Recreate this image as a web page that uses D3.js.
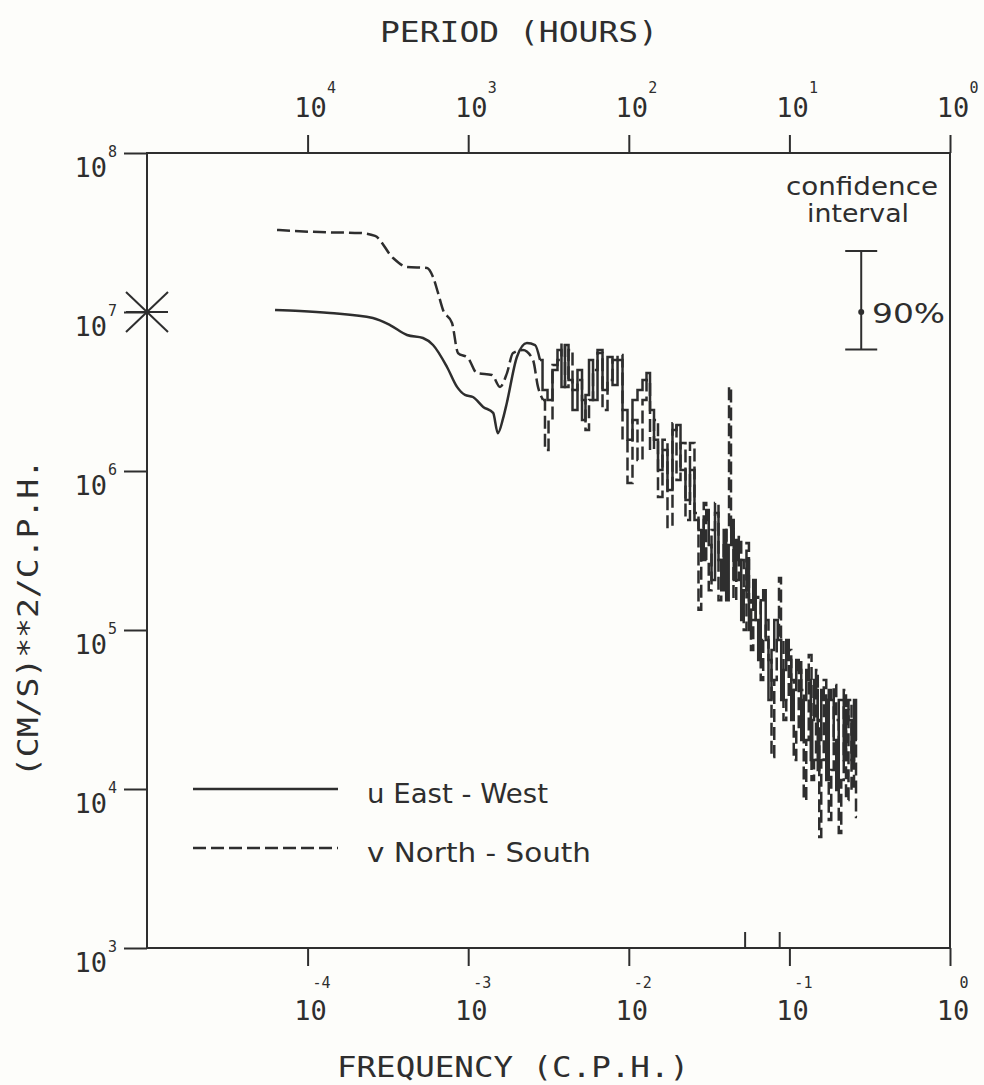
<!DOCTYPE html>
<html><head><meta charset="utf-8">
<script src="https://cdn.jsdelivr.net/npm/d3@7"></script>
<style>html,body{margin:0;padding:0;background:#fdfdfa}svg{display:block}</style>
</head><body>
<svg id="c" width="984" height="1085"></svg>
<script>
// ---- axis ticks ----
const freqTicks = [1e-4, 1e-3, 1e-2, 1e-1, 1];
const freqExpLabels = ["-4", "-3", "-2", "-1", "0"];
const periodTicks = [1e4, 1e3, 1e2, 1e1, 1];
const periodExpLabels = ["4", "3", "2", "1", "0"];
const psdTicks = [1e8, 1e7, 1e6, 1e5, 1e4, 1e3];
const psdExpLabels = ["8", "7", "6", "5", "4", "3"];
const markFreqs = [0.053, 0.087];

// ---- u East-West (solid) ----
const uSmoothFreq = [6.27e-5, 8.97e-5, 1.38e-4, 2.55e-4, 3.26e-4, 4.16e-4, 5.23e-4, 6.04e-4, 7.38e-4, 8.52e-4, 9.55e-4, 1.07e-3, 1.24e-3, 1.43e-3, 1.53e-3, 1.65e-3, 1.74e-3, 2.01e-3, 2.32e-3, 2.61e-3, 2.80e-3];
const uSmoothPSD = [1.03e7, 1.015e7, 9.86e6, 9.17e6, 8.28e6, 7.17e6, 6.86e6, 6.20e6, 4.51e6, 3.38e6, 3.01e6, 2.92e6, 2.53e6, 2.32e6, 1.73e6, 2.15e6, 2.68e6, 5.21e6, 6.38e6, 6.20e6, 4.99e6];
const uFineFreq = [
  2.80e-3, 3.01e-3, 3.23e-3, 3.47e-3, 3.73e-3, 3.89e-3, 4.12e-3, 4.31e-3, 4.62e-3, 4.97e-3,
  5.26e-3, 5.49e-3, 5.82e-3, 6.16e-3, 6.62e-3, 7.11e-3, 7.64e-3, 8.21e-3, 8.82e-3, 9.47e-3,
  1.017e-2, 1.093e-2, 1.174e-2, 1.262e-2, 1.317e-2, 1.395e-2, 1.477e-2, 1.564e-2, 1.680e-2, 1.805e-2,
  1.939e-2, 2.025e-2, 2.175e-2, 2.336e-2, 2.474e-2, 2.658e-2,
  2.775e-2, 2.875e-2, 2.982e-2, 3.09e-2, 3.203e-2, 3.345e-2, 3.542e-2, 3.697e-2, 3.83e-2, 3.972e-2,
  4.11e-2, 4.267e-2, 4.42e-2, 4.584e-2, 4.75e-2, 4.925e-2, 5.10e-2, 5.29e-2, 5.52e-2, 5.68e-2,
  5.85e-2, 6.06e-2, 6.28e-2, 6.51e-2, 6.75e-2, 6.99e-2, 7.25e-2, 7.57e-2, 7.91e-2, 8.19e-2,
  8.74e-2, 9.05e-2, 9.39e-2, 9.73e-2, 0.1009, 0.1045, 0.1084, 0.1123, 0.1164, 0.1206,
  0.1251, 0.1296, 0.1344, 0.1373, 0.1403, 0.1444, 0.1486, 0.1518, 0.1551, 0.1607,
  0.1666, 0.1727, 0.1790, 0.1855, 0.1923, 0.1993, 0.2066, 0.2141, 0.2220, 0.2284,
  0.2384, 0.2490, 0.2562, 0.2636];
const uFinePSD = [
  4.99e6, 3.23e6, 2.80e6, 4.32e6, 5.77e6, 3.38e6, 6.20e6, 3.74e6, 2.42e6, 4.32e6,
  2.09e6, 3.01e6, 4.99e6, 2.80e6, 5.52e6, 3.23e6, 5.21e6, 3.47e6, 4.99e6, 2.42e6,
  1.57e6, 2.80e6, 3.23e6, 3.74e6, 4.13e6, 2.42e6, 1.57e6, 1.015e6, 1.356e6, 7.60e5,
  1.81e6, 1.95e6, 1.015e6, 6.57e5, 1.015e6, 4.92e5,
  4.26e5, 2.76e5, 4.92e5, 5.68e5, 3.42e5, 2.06e5, 5.44e5, 2.76e5, 1.78e5, 4.26e5,
  1.54e5, 3.42e5, 4.92e5, 2.06e5, 3.68e5, 2.76e5, 1.156e5, 1.78e5, 2.76e5, 1.00e5,
  1.34e5, 2.06e5, 1.156e5, 6.48e4, 1.54e5, 1.78e5, 8.65e4, 3.63e4, 7.49e4, 1.156e5,
  8.65e4, 3.63e4, 5.60e4, 8.65e4, 6.48e4, 2.72e4, 4.20e4, 6.48e4, 5.60e4, 2.03e4,
  3.63e4, 5.60e4, 4.85e4, 1.52e4, 2.72e4, 4.85e4, 4.20e4, 1.317e4, 2.03e4, 4.20e4,
  3.63e4, 1.14e4, 4.20e4, 3.63e4, 2.03e4, 9.86e3, 3.63e4, 3.63e4, 1.52e4, 3.14e4,
  2.72e4, 1.52e4, 3.63e4, 2.03e4];

// ---- v North-South (dashed) ----
const vSmoothFreq = [6.45e-5, 1.19e-4, 2.12e-4, 2.63e-4, 3.40e-4, 4.16e-4, 5.54e-4, 6.04e-4, 6.49e-4, 6.97e-4, 7.93e-4, 8.64e-4, 9.97e-4, 1.134e-3, 1.407e-3, 1.578e-3, 1.744e-3, 1.901e-3, 2.193e-3, 2.532e-3, 2.720e-3, 2.92e-3];
const vSmoothPSD = [3.28e7, 3.18e7, 3.14e7, 3.01e7, 2.19e7, 1.92e7, 1.89e7, 1.66e7, 1.317e7, 1.03e7, 8.53e6, 5.52e6, 5.14e6, 4.13e6, 4.02e6, 3.38e6, 4.13e6, 5.52e6, 5.77e6, 4.99e6, 3.38e6, 2.80e6];
const vFineFreq = [
  2.92e-3, 3.096e-3, 3.232e-3, 3.472e-3, 3.728e-3, 3.893e-3, 4.123e-3, 4.305e-3, 4.624e-3, 4.97e-3,
  5.26e-3, 5.49e-3, 5.82e-3, 6.16e-3, 6.62e-3, 7.11e-3, 7.64e-3, 8.21e-3, 8.82e-3, 9.47e-3,
  1.017e-2, 1.093e-2, 1.174e-2, 1.262e-2, 1.317e-2, 1.395e-2, 1.477e-2, 1.564e-2, 1.680e-2, 1.805e-2,
  1.939e-2, 2.025e-2, 2.175e-2, 2.336e-2, 2.474e-2, 2.658e-2,
  2.775e-2, 2.875e-2, 2.982e-2, 3.09e-2, 3.203e-2, 3.345e-2, 3.542e-2, 3.697e-2, 3.83e-2, 3.972e-2,
  4.15e-2, 4.267e-2, 4.39e-2, 4.584e-2, 4.75e-2, 4.925e-2, 5.10e-2, 5.29e-2, 5.52e-2, 5.68e-2,
  5.85e-2, 6.06e-2, 6.28e-2, 6.51e-2, 6.75e-2, 6.99e-2, 7.25e-2, 7.57e-2, 7.91e-2, 8.19e-2,
  8.49e-2, 8.74e-2, 8.99e-2, 9.39e-2, 9.73e-2, 0.1009, 0.1045, 0.1084, 0.1123, 0.1164,
  0.1206, 0.1251, 0.1296, 0.1344, 0.1403, 0.1444, 0.1486, 0.1518, 0.1551, 0.1607,
  0.1666, 0.1727, 0.1790, 0.1855, 0.1923, 0.1993, 0.2066, 0.2141, 0.2220, 0.2284,
  0.2384, 0.2490, 0.2562, 0.2636];
const vFinePSD = [
  2.80e6, 1.356e6, 2.09e6, 4.64e6, 4.99e6, 6.38e6, 3.38e6, 5.77e6, 3.23e6, 3.74e6,
  2.80e6, 1.81e6, 2.80e6, 4.32e6, 5.77e6, 2.42e6, 3.74e6, 4.99e6, 5.36e6, 1.57e6,
  8.40e5, 2.09e6, 1.173e6, 2.80e6, 3.74e6, 1.356e6, 2.09e6, 6.86e5, 1.57e6, 4.44e5,
  2.00e6, 8.78e5, 1.50e6, 4.92e5, 1.50e6, 5.44e5,
  1.34e5, 3.18e5, 6.29e5, 2.76e5, 1.78e5, 4.26e5, 6.29e5, 1.54e5, 2.76e5, 3.53e5,
  4.26e5, 3.38e6, 4.26e5, 1.54e5, 2.06e5, 3.85e5, 2.76e5, 1.00e5, 3.53e5, 1.54e5,
  7.49e4, 1.156e5, 1.61e5, 1.54e5, 4.85e4, 8.65e4, 1.156e5, 6.48e4, 1.59e4, 4.85e4,
  8.65e4, 2.12e5, 8.65e4, 2.72e4, 3.63e4, 7.49e4, 4.85e4, 1.52e4, 2.35e4, 6.48e4,
  4.20e4, 8.53e3, 2.03e4, 6.96e4, 1.14e4, 1.52e4, 5.60e4, 2.72e4, 4.99e3, 1.52e4,
  4.85e4, 3.63e4, 6.38e3, 1.317e4, 4.51e4, 2.72e4, 5.29e3, 1.14e4, 4.20e4, 8.53e3,
  3.63e4, 9.86e3, 2.03e4, 6.67e3];

// ---- confidence interval & marker ----
const ciFreq = 0.28;
const ciPSD = [5.8e6, 1.0e7, 2.42e7]; // lower, estimate, upper
const starPSD = 1e7;

// ---------------------------------------------------------------
const svg = d3.select("#c");
const ink = "#2e2e2e";
const mono = "'DejaVu Sans Mono', 'Liberation Mono', monospace";
const sans = "'DejaVu Sans', 'Noto Sans', sans-serif";

const x = d3.scaleLog().domain([1e-5, 1]).range([147, 950]);
const xp = d3.scaleLog().domain([1e5, 1]).range([147, 950]);
const y = d3.scaleLog().domain([1e3, 1e8]).range([948, 153]);

// frame
svg.append("rect").attr("x", x(1e-5)).attr("y", y(1e8))
  .attr("width", x(1) - x(1e-5)).attr("height", y(1e3) - y(1e8))
  .attr("fill", "none").attr("stroke", ink).attr("stroke-width", 2);

function styleAxis(g) {
  g.select(".domain").remove();
  g.selectAll("line").attr("stroke", ink).attr("stroke-width", 2);
  g.selectAll("text").remove();
}
svg.append("g").attr("transform", `translate(0,${y(1e3)})`)
  .call(d3.axisBottom(x).tickValues(freqTicks).tickSize(18).tickFormat(() => "")).call(styleAxis);
svg.append("g").attr("transform", `translate(0,${y(1e8)})`)
  .call(d3.axisTop(xp).tickValues(periodTicks).tickSize(18).tickFormat(() => "")).call(styleAxis);
svg.append("g").attr("transform", `translate(${x(1e-5)},0)`)
  .call(d3.axisLeft(y).tickValues(psdTicks).tickSize(23).tickFormat(() => "")).call(styleAxis);
// marks on bottom axis
svg.append("g").selectAll("line").data(markFreqs).join("line")
  .attr("x1", d => x(d)).attr("x2", d => x(d))
  .attr("y1", y(1e3)).attr("y2", y(1e3) - 16)
  .attr("stroke", ink).attr("stroke-width", 2);

function label(xc, yb, anchor, txt, size) {
  return svg.append("text").attr("x", xc).attr("y", yb).attr("text-anchor", anchor)
    .attr("font-family", mono).attr("font-size", size).attr("fill", ink).text(txt);
}
// bottom tick labels
freqTicks.forEach((v, i) => {
  label(x(v) + 3, 1020, "middle", "10", 27);
  label(x(v) + 14, 988, "middle", freqExpLabels[i], 15);
});
// top tick labels
periodTicks.forEach((v, i) => {
  label(xp(v) + 3, 117, "middle", "10", 27);
  label(xp(v) + 24, 93, "middle", periodExpLabels[i], 15);
});
// left tick labels
psdTicks.forEach((v, i) => {
  label(107, y(v) + 24, "end", "10", 27);
  label(108, y(v) + 4, "start", psdExpLabels[i], 15);
});

// axis titles
svg.append("text").attr("x", 519).attr("y", 42).attr("text-anchor", "middle")
  .attr("font-family", mono).attr("font-size", 28).attr("fill", ink)
  .attr("textLength", 278).attr("lengthAdjust", "spacingAndGlyphs").text("PERIOD (HOURS)");
svg.append("text").attr("x", 513).attr("y", 1077).attr("text-anchor", "middle")
  .attr("font-family", mono).attr("font-size", 28).attr("fill", ink)
  .attr("textLength", 352).attr("lengthAdjust", "spacingAndGlyphs").text("FREQUENCY (C.P.H.)");
svg.append("text").attr("transform", "translate(38,618) rotate(-90)").attr("text-anchor", "middle")
  .attr("font-family", mono).attr("font-size", 28).attr("fill", ink)
  .attr("textLength", 318).attr("lengthAdjust", "spacingAndGlyphs").text("(CM/S)**2/C.P.H.");

// asterisk marker at left axis
const sx = x(1e-5), sy = y(starPSD);
[[-21, 0, 21, 0], [-21, -20, 21, 20], [-21, 20, 21, -20]].forEach(a => {
  svg.append("line").attr("x1", sx + a[0]).attr("y1", sy + a[1]).attr("x2", sx + a[2]).attr("y2", sy + a[3])
    .attr("stroke", ink).attr("stroke-width", 2);
});

// series
const zip = (f, p) => f.map((v, i) => [v, p[i]]);
const smooth = d3.line().x(d => x(d[0])).y(d => y(d[1])).curve(d3.curveMonotoneX);
const step = d3.line().x(d => x(d[0])).y(d => y(d[1])).curve(d3.curveStep);
const dash = "13,5";
const sw = 2.5;
svg.append("path").attr("d", smooth(zip(vSmoothFreq, vSmoothPSD)))
  .attr("fill", "none").attr("stroke", ink).attr("stroke-width", sw).attr("stroke-dasharray", dash);
svg.append("path").attr("d", step(zip(vFineFreq, vFinePSD)))
  .attr("fill", "none").attr("stroke", ink).attr("stroke-width", sw).attr("stroke-dasharray", dash);
svg.append("path").attr("d", smooth(zip(uSmoothFreq, uSmoothPSD)))
  .attr("fill", "none").attr("stroke", ink).attr("stroke-width", sw);
svg.append("path").attr("d", step(zip(uFineFreq, uFinePSD)))
  .attr("fill", "none").attr("stroke", ink).attr("stroke-width", sw);

// confidence interval
const cx = x(ciFreq);
svg.append("line").attr("x1", cx).attr("x2", cx).attr("y1", y(ciPSD[0])).attr("y2", y(ciPSD[2]))
  .attr("stroke", ink).attr("stroke-width", 2);
[ciPSD[0], ciPSD[2]].forEach(v => svg.append("line").attr("x1", cx - 16).attr("x2", cx + 16)
  .attr("y1", y(v)).attr("y2", y(v)).attr("stroke", ink).attr("stroke-width", 2));
svg.append("circle").attr("cx", cx).attr("cy", y(ciPSD[1])).attr("r", 3).attr("fill", ink);
svg.append("text").attr("x", 872).attr("y", 323).attr("font-family", sans).attr("font-size", 27)
  .attr("fill", ink).attr("textLength", 73).attr("lengthAdjust", "spacingAndGlyphs").text("90%");
svg.append("text").attr("x", 862).attr("y", 195).attr("text-anchor", "middle").attr("font-family", sans)
  .attr("font-size", 25).attr("fill", ink).attr("textLength", 152).attr("lengthAdjust", "spacingAndGlyphs").text("confidence");
svg.append("text").attr("x", 858).attr("y", 222).attr("text-anchor", "middle").attr("font-family", sans)
  .attr("font-size", 25).attr("fill", ink).attr("textLength", 102).attr("lengthAdjust", "spacingAndGlyphs").text("interval");

// legend
const legend = [
  {label: "u  East - West", dash: null, y: 789, len: 181},
  {label: "v  North - South", dash: dash, y: 848, len: 224}
];
legend.forEach(d => {
  svg.append("line").attr("x1", 193).attr("x2", 338).attr("y1", d.y).attr("y2", d.y)
    .attr("stroke", ink).attr("stroke-width", sw).attr("stroke-dasharray", d.dash);
  svg.append("text").attr("x", 367).attr("y", d.y + 14).attr("font-family", sans).attr("font-size", 27)
    .attr("fill", ink).attr("textLength", d.len).attr("lengthAdjust", "spacingAndGlyphs").text(d.label);
});
</script>
</body></html>
